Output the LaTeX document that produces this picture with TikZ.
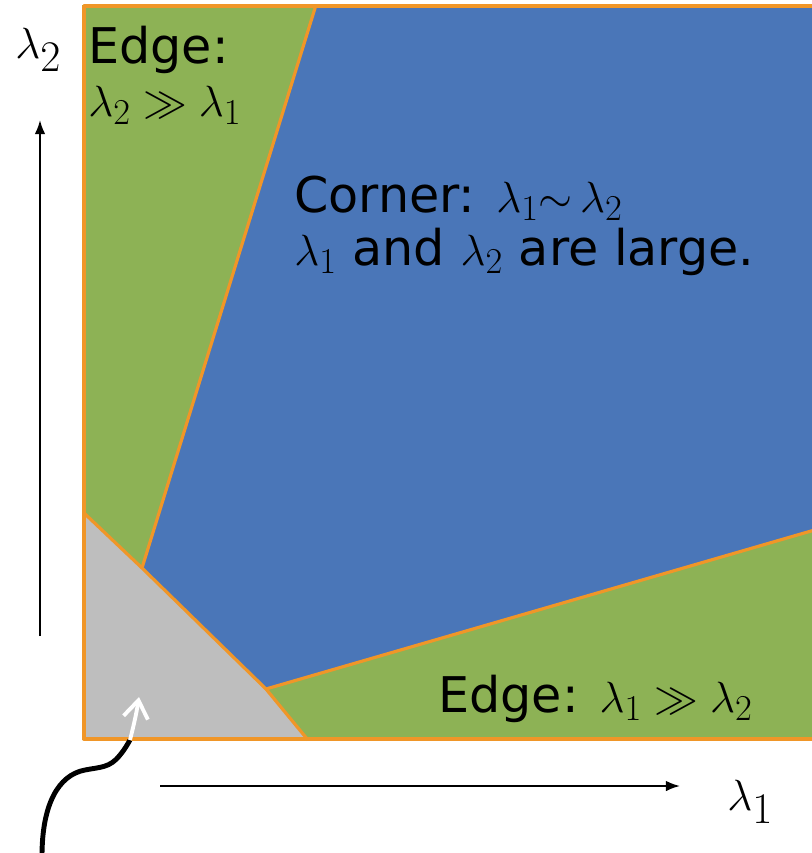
\documentclass[tikz,border=0pt]{standalone}
\usepackage{amsmath}
\usepackage{fontspec}
\setmainfont{DejaVu Sans}
\usetikzlibrary{arrows.meta}
\definecolor{edgegreen}{RGB}{141,178,85}
\definecolor{cornerblue}{RGB}{74,118,184}
\definecolor{flatgray}{RGB}{190,190,190}
\definecolor{lineorange}{RGB}{240,150,40}

\begin{document}
\begin{tikzpicture}[
  x=0.02cm, y=-0.02cm,
  regionlabel/.style={inner sep=0pt, anchor=base west, align=left, font=\fontsize{28}{30}\selectfont},
  axislabel/.style={inner sep=0pt, anchor=base west, font=\fontsize{36}{40}\selectfont},
  border/.style={draw=lineorange, line width=2.2pt, line join=round},
  divider/.style={draw=lineorange, line width=1.8pt, line join=round},
  axisarrow/.style={draw=black, line width=1.1pt, -{Latex[length=8pt,width=6pt]}},
  >=Stealth
]
\useasboundingbox (0,0) rectangle (812,853);

\fill[edgegreen] (82,5) rectangle (818,740);
\fill[cornerblue] (316,5) -- (818,5) -- (818,529) -- (266,689) -- (142,568) -- cycle;
\fill[flatgray] (84,513) -- (142,568) -- (266,689) -- (308,740) -- (84,740) -- cycle;

\draw[divider] (316,5) -- (142,568);
\draw[divider] (266,689) -- (818,529);
\draw[divider] (84,513) -- (142,568) -- (266,689) -- (308,740);
\draw[border] (84,6) rectangle (818,739);

\node[regionlabel] (edge-v) at (88,116) {Edge:\\$\lambda_2 \gg \lambda_1$};
\node[regionlabel] (corner) at (294,265) {Corner: $\lambda_1{\sim}\,\lambda_2$\\$\lambda_1$ and $\lambda_2$ are large.};
\node[regionlabel] (edge-h) at (438,712) {Edge: $\lambda_1 \gg \lambda_2$};

\coordinate (v-tail) at (40,636);
\coordinate (v-tip) at (40,120);
\coordinate (h-tail) at (160,786);
\coordinate (h-tip) at (680,786);
\draw[axisarrow] (v-tail) -- (v-tip);
\draw[axisarrow] (h-tail) -- (h-tip);
\node[axislabel] (lam2) at (15,58) {$\lambda_2$};
\node[axislabel] (lam1) at (727,810) {$\lambda_1$};

\coordinate (flat-start) at (42,856);
\coordinate (flat-mid) at (130,740);
\coordinate (flat-tip) at (139,697);
\draw[line width=2.8pt] (flat-start) .. controls (42,805) and (58,775) .. (85,770) .. controls (100,767) and (110,768) .. (120,755) .. controls (125,749) and (127,745) .. (flat-mid);
\draw[white, line width=2.2pt, -{Straight Barb[length=10pt,width=14pt]}] (flat-mid) .. controls (133,728) and (136,716) .. (flat-tip);

\end{tikzpicture}
\end{document}
